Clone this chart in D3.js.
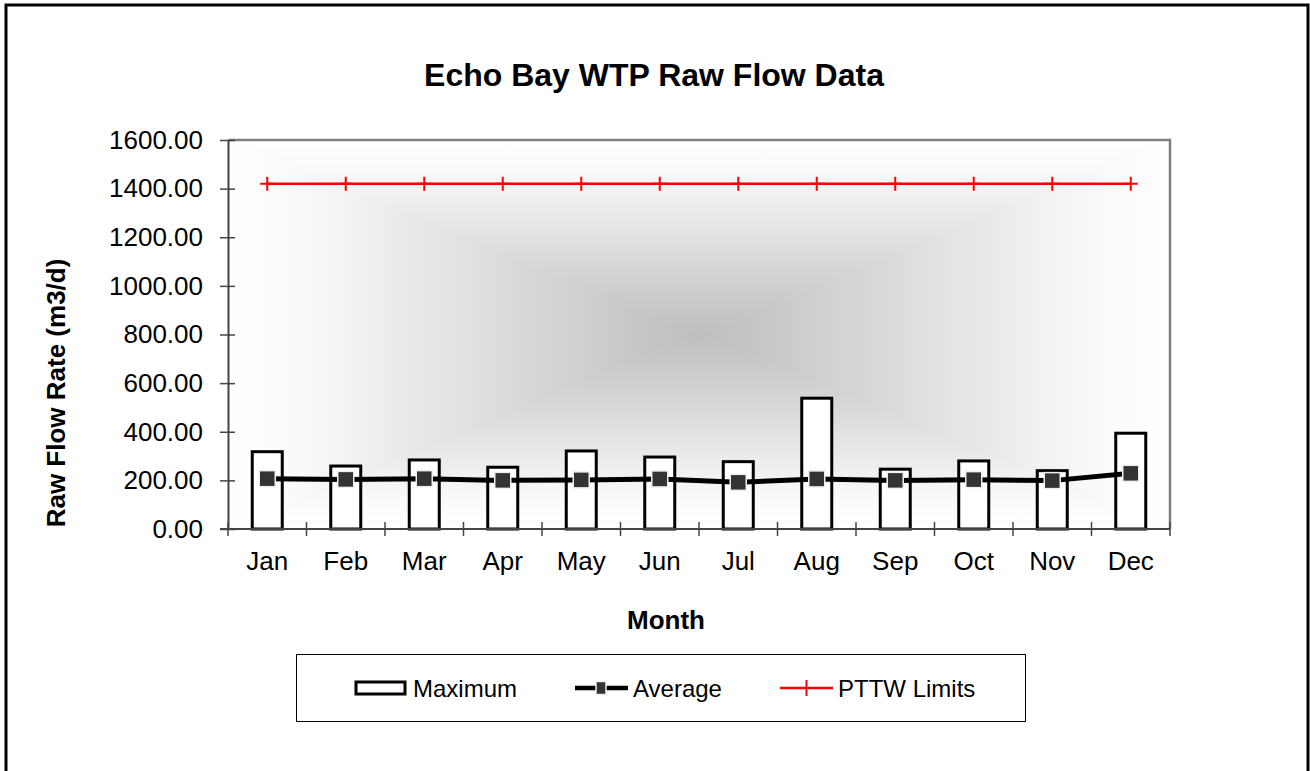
<!DOCTYPE html>
<html>
<head>
<meta charset="utf-8">
<script src="https://cdn.jsdelivr.net/npm/d3@7"></script>
<style>
  body { margin: 0; background: #fff; }
  svg { display: block; font-family: "Liberation Sans", Arial, sans-serif; }
</style>
</head>
<body>
<div id="wrapper"></div>
<script>
const months = ["Jan","Feb","Mar","Apr","May","Jun","Jul","Aug","Sep","Oct","Nov","Dec"];
const maximum = [318, 259, 284, 254, 321, 296, 277, 538, 246, 280, 240, 394];
const average = [207, 204, 207, 200, 202, 206, 192, 206, 200, 203, 199, 229];
const pttwLimits = [1420, 1420, 1420, 1420, 1420, 1420, 1420, 1420, 1420, 1420, 1420, 1420];
const yTicks = [0, 200, 400, 600, 800, 1000, 1200, 1400, 1600];

let dimensions = {
  width: 1310,
  height: 771,
  margin: { top: 140, right: 140, bottom: 242, left: 228 }
};
dimensions.boundedWidth = dimensions.width - dimensions.margin.left - dimensions.margin.right;
dimensions.boundedHeight = dimensions.height - dimensions.margin.top - dimensions.margin.bottom;

const svg = d3.select("#wrapper").append("svg")
  .attr("width", dimensions.width)
  .attr("height", dimensions.height);

// outer frame
svg.append("rect")
  .attr("x", 6).attr("y", 5)
  .attr("width", 1302).attr("height", 775)
  .attr("fill", "#fff").attr("stroke", "#000").attr("stroke-width", 3);

const bw = dimensions.boundedWidth, bh = dimensions.boundedHeight;
const container = svg.append("g")
  .attr("transform", `translate(${dimensions.margin.left},${dimensions.margin.top})`);

// background: rectangular "from center" gradient built from four triangles
const defs = svg.append("defs");
const centreCol = "#bebebe", edgeCol = "#ffffff";
const cx = bw / 2, cy = bh / 2;
const sides = [
  { id: "gTop", pts: [[0,0],[bw,0],[cx,cy]], x1: 0, y1: 0, x2: 0, y2: cy },
  { id: "gBot", pts: [[0,bh],[bw,bh],[cx,cy]], x1: 0, y1: bh, x2: 0, y2: cy },
  { id: "gLeft", pts: [[0,0],[0,bh],[cx,cy]], x1: 0, y1: 0, x2: cx, y2: 0 },
  { id: "gRight", pts: [[bw,0],[bw,bh],[cx,cy]], x1: bw, y1: 0, x2: cx, y2: 0 }
];
sides.forEach(s => {
  const g = defs.append("linearGradient").attr("id", s.id)
    .attr("gradientUnits", "userSpaceOnUse")
    .attr("x1", s.x1).attr("y1", s.y1).attr("x2", s.x2).attr("y2", s.y2);
  g.append("stop").attr("offset", 0).attr("stop-color", edgeCol);
  g.append("stop").attr("offset", 0.15).attr("stop-color", "#fafafa");
  g.append("stop").attr("offset", 1).attr("stop-color", centreCol);
  container.append("polygon")
    .attr("points", s.pts.map(p => p.join(",")).join(" "))
    .attr("fill", `url(#${s.id})`)
    .attr("stroke", `url(#${s.id})`).attr("stroke-width", 0.6);
});

// plot border (top / right)
container.append("path")
  .attr("d", `M0,0H${bw}V${bh}`)
  .attr("fill", "none").attr("stroke", "#808080").attr("stroke-width", 2.5);

const xScale = d3.scaleBand().domain(months).range([0, bw]);
const yScale = d3.scaleLinear().domain([0, 1600]).range([bh, 0]);
const xc = d => xScale(d) + xScale.bandwidth() / 2;

// Maximum bars
const barW = 30;
container.append("g").selectAll("rect")
  .data(months)
  .enter()
  .append("rect")
  .attr("x", d => xc(d) - barW / 2)
  .attr("y", (d, i) => yScale(maximum[i]))
  .attr("width", barW)
  .attr("height", (d, i) => bh - yScale(maximum[i]))
  .attr("fill", "#fff")
  .attr("stroke", "#000")
  .attr("stroke-width", 3);

// axes
const yAxisGen = d3.axisLeft(yScale).tickValues(yTicks).tickFormat(d3.format(".2f")).tickSizeInner(8).tickSizeOuter(0);
const axisY = container.append("g").call(yAxisGen);
axisY.select(".domain").attr("stroke", "#444").attr("stroke-width", 2);
axisY.selectAll(".tick line").attr("x2", -8).attr("x1", 7).attr("stroke", "#444").attr("stroke-width", 1.5);
axisY.selectAll(".tick text").attr("x", -25).attr("font-size", 26).attr("fill", "#000")
  .attr("font-family", "Liberation Sans, Arial, sans-serif");

const xBounds = d3.range(13).map(i => i * xScale.step());
const axisX = container.append("g").attr("transform", `translate(0,${bh})`);
axisX.append("line").attr("x1", -8).attr("x2", bw).attr("stroke", "#444").attr("stroke-width", 2);
axisX.selectAll(".xt").data(xBounds).enter().append("line")
  .attr("x1", d => d).attr("x2", d => d)
  .attr("y1", -7).attr("y2", 7)
  .attr("stroke", "#444").attr("stroke-width", 1.5);
axisX.selectAll("text").data(months).enter().append("text")
  .attr("x", d => xc(d)).attr("y", 41)
  .attr("text-anchor", "middle").attr("font-size", 26).text(d => d);

// Average line
const avgLine = d3.line().x((d, i) => xc(months[i])).y(d => yScale(d));
container.append("path")
  .datum(average)
  .attr("d", avgLine)
  .attr("fill", "none").attr("stroke", "#000").attr("stroke-width", 5);
const mk = 16;
container.append("g").selectAll("rect")
  .data(average)
  .enter()
  .append("rect")
  .attr("x", (d, i) => xc(months[i]) - mk / 2)
  .attr("y", d => yScale(d) - mk / 2)
  .attr("width", mk).attr("height", mk)
  .attr("fill", "#333").attr("stroke", "#eee").attr("stroke-width", 1.5);

// PTTW limits line
const limLine = d3.line().x((d, i) => xc(months[i])).y(d => yScale(d));
container.append("path")
  .datum(pttwLimits)
  .attr("d", limLine)
  .attr("fill", "none").attr("stroke", "#ff0000").attr("stroke-width", 2.5);
container.append("g").selectAll("path")
  .data(pttwLimits)
  .enter()
  .append("path")
  .attr("d", (d, i) => {
    const x = xc(months[i]), y = yScale(d);
    return `M${x - 7},${y}H${x + 7}M${x},${y - 7}V${y + 7}`;
  })
  .attr("stroke", "#ff0000").attr("stroke-width", 2);

// titles
svg.append("text").attr("x", 654).attr("y", 86)
  .attr("text-anchor", "middle").attr("font-size", 32).attr("font-weight", "bold")
  .text("Echo Bay WTP Raw Flow Data");
svg.append("text").attr("transform", "translate(65,393) rotate(-90)")
  .attr("text-anchor", "middle").attr("font-size", 26).attr("font-weight", "bold")
  .text("Raw Flow Rate (m3/d)");
svg.append("text").attr("x", 666).attr("y", 629)
  .attr("text-anchor", "middle").attr("font-size", 26).attr("font-weight", "bold")
  .text("Month");

// legend
const legend = svg.append("g");
legend.append("rect").attr("x", 296.5).attr("y", 654.5).attr("width", 729).attr("height", 67)
  .attr("fill", "#fff").attr("stroke", "#000").attr("stroke-width", 1);
const ly = 688;
legend.append("rect").attr("x", 356).attr("y", ly - 6).attr("width", 49).attr("height", 12)
  .attr("fill", "#fff").attr("stroke", "#000").attr("stroke-width", 3);
legend.append("line").attr("x1", 575).attr("x2", 628).attr("y1", ly).attr("y2", ly)
  .attr("stroke", "#000").attr("stroke-width", 4.5);
legend.append("rect").attr("x", 596).attr("y", ly - 6.5).attr("width", 10).attr("height", 13)
  .attr("fill", "#333").attr("stroke", "#eee").attr("stroke-width", 1.5);
legend.append("line").attr("x1", 780).attr("x2", 833).attr("y1", ly).attr("y2", ly)
  .attr("stroke", "#ff0000").attr("stroke-width", 2.5);
legend.append("path").attr("d", `M806.5,${ly - 8}V${ly + 8}`)
  .attr("stroke", "#ff0000").attr("stroke-width", 2);
[["Maximum", 413], ["Average", 633], ["PTTW Limits", 838]].forEach(([t, x]) => {
  legend.append("text").attr("x", x).attr("y", ly + 9).attr("font-size", 24).text(t);
});
</script>
</body>
</html>
